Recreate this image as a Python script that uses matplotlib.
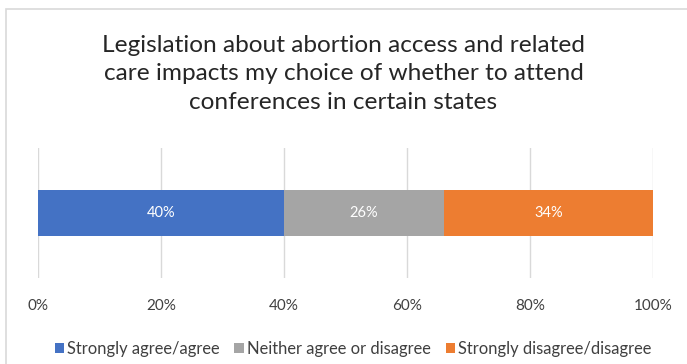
import matplotlib
matplotlib.use("Agg")
import matplotlib.pyplot as plt
from matplotlib.patches import Rectangle
from matplotlib.ticker import PercentFormatter

plt.rcParams['font.family'] = ['Lato', 'DejaVu Sans']

title = "Legislation about abortion access and related\ncare impacts my choice of whether to attend\nconferences in certain states"
categories = ["Strongly agree/agree", "Neither agree or disagree", "Strongly disagree/disagree"]
values = [40, 26, 34]
colors = ["#4472C4", "#A5A5A5", "#ED7D31"]
xticks = [0, 20, 40, 60, 80, 100]

fig = plt.figure(figsize=(6.87, 3.64), dpi=100)
fig.patch.set_facecolor("white")

# chart frame (top and left edges visible)
fig.add_artist(Rectangle((6 / 687, -0.1), 1.2, 1 - 9 / 364 + 0.1,
                         transform=fig.transFigure, fill=False,
                         edgecolor="#D9D9D9", linewidth=1.2))

fig.text(0.5, 1 - 74 / 364, title, ha="center", va="center",
         fontsize=17.6, color="#262626", linespacing=1.42)

ax = fig.add_axes([38 / 687, 1 - 278 / 364, (653 - 38) / 687, (278 - 148) / 364])
left = 0
for cat, v, c in zip(categories, values, colors):
    ax.barh(0, v, left=left, height=46 / 130, color=c, label=cat)
    ax.text(left + v / 2, 0, f"{v}%", ha="center", va="center",
            color="white", fontsize=10.5)
    left += v

ax.set_xlim(0, 100)
ax.set_ylim(-0.5, 0.5)
ax.set_xticks(xticks)
ax.xaxis.set_major_formatter(PercentFormatter(decimals=0))
ax.set_yticks([])
ax.grid(axis="x", color="#D9D9D9", linewidth=1)
ax.set_axisbelow(True)
for s in ax.spines.values():
    s.set_visible(False)
ax.tick_params(axis="x", length=0, pad=15, labelsize=11, labelcolor="#404040")

leg = ax.legend(loc="center", bbox_to_anchor=((353 - 38) / 615, (278 - 349) / 130),
                ncol=3, frameon=False, fontsize=11.9, handlelength=0.55,
                handleheight=0.55, handletextpad=0.2, columnspacing=0.9,
                borderpad=0, borderaxespad=0)
for t in leg.get_texts():
    t.set_color("#404040")

fig.savefig("out.png", dpi=100)
